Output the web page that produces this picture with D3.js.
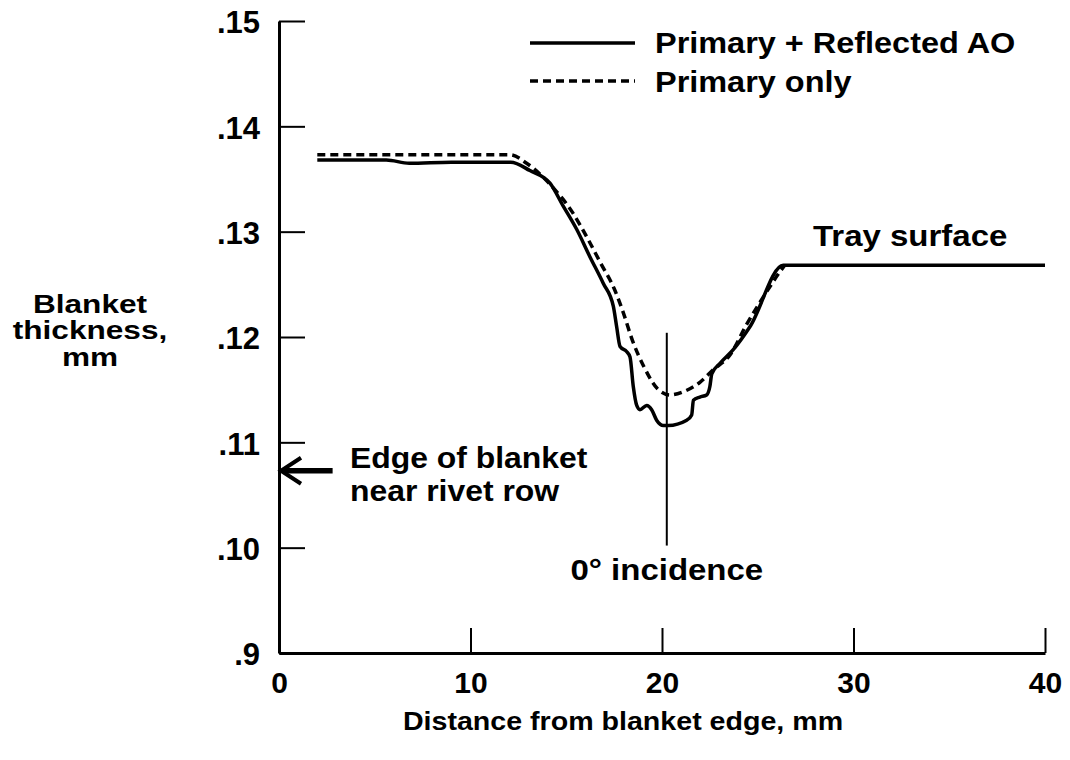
<!DOCTYPE html>
<html>
<head>
<meta charset="utf-8">
<script src="https://cdn.jsdelivr.net/npm/d3@7"></script>
<style>
  body { margin: 0; background: #fff; }
  svg { font-family: "Liberation Sans", Arial, Helvetica, sans-serif; font-weight: bold; }
</style>
</head>
<body>
<svg id="chart"></svg>
<script>
// data
var xTicks = [0, 10, 20, 30, 40];
var yTicks = [0.09, 0.10, 0.11, 0.12, 0.13, 0.14, 0.15];
var yTickLabels = [".9", ".10", ".11", ".12", ".13", ".14", ".15"];

// Primary + Reflected AO (solid)
var reflDist = [2, 5.6, 6.8, 9, 12.1, 13.1, 14.15, 14.85, 15.55, 16.24, 16.93, 17.46, 17.63, 17.81, 18.16, 18.33, 18.5, 18.68, 18.85, 19.2, 19.46, 19.72, 20.07, 20.33, 21.29, 21.55, 21.64, 21.98, 22.33, 22.5, 22.6, 23.03, 23.72, 24.6, 26.33, 40];
var reflThick = [0.1368, 0.1368, 0.1365, 0.1366, 0.1366, 0.1358, 0.1346, 0.1324, 0.1302, 0.1276, 0.1251, 0.1229, 0.1210, 0.1191, 0.1186, 0.1181, 0.1153, 0.1135, 0.1131, 0.1135, 0.1131, 0.1121, 0.1116, 0.1116, 0.1121, 0.1126, 0.1140, 0.1143, 0.1145, 0.1153, 0.1165, 0.1175, 0.1188, 0.1210, 0.1268, 0.1268];

// Primary only (dashed)
var primDist = [2, 12.06, 12.93, 14.25, 15.3, 16.1, 16.8, 17.5, 18.0, 18.45, 19.05, 19.81, 20.42, 21.11, 21.98, 22.68, 23.55, 24.42, 25.12, 26.16, 26.4];
var primThick = [0.1373, 0.1373, 0.1365, 0.1343, 0.1319, 0.1294, 0.1270, 0.1246, 0.1222, 0.1197, 0.1172, 0.1150, 0.1145, 0.1148, 0.1157, 0.1169, 0.1183, 0.1212, 0.1233, 0.1262, 0.1268];

var incidenceDist = 20.25;
var incidenceSpan = [0.1204, 0.1002];
var edgeThick = 0.1073;

var width = 1070, height = 760;

var svg = d3.select("#chart")
    .attr("width", width)
    .attr("height", height);

svg.append("rect").attr("width", width).attr("height", height).attr("fill", "#fff");

var x = d3.scaleLinear().domain([0, 40]).range([279, 1045]);
var y = d3.scaleLinear().domain([0.09, 0.15]).range([653, 21]);

// axes
var xAxis = d3.axisBottom(x)
    .tickValues(xTicks)
    .tickFormat(d3.format("d"))
    .tickSize(-25)
    .tickSizeOuter(0)
    .tickPadding(19);

var yAxis = d3.axisLeft(y)
    .tickValues(yTicks)
    .tickFormat(function(d, i) { return yTickLabels[i]; })
    .tickSize(-26)
    .tickSizeOuter(0)
    .tickPadding(19);

var gx = svg.append("g")
    .attr("transform", "translate(0,653)")
    .call(xAxis);

var gy = svg.append("g")
    .attr("transform", "translate(279,0)")
    .call(yAxis);

[gx, gy].forEach(function(g) {
    g.select(".domain").attr("stroke", "#000").attr("stroke-width", 3);
    g.selectAll(".tick line").attr("stroke", "#000").attr("stroke-width", 2);
    g.selectAll(".tick text")
        .attr("fill", "#000")
        .style("font-family", "Liberation Sans, Arial, sans-serif")
        .style("font-weight", "bold");
});
gx.selectAll(".tick text").style("font-size", "30px");
gy.selectAll(".tick text").style("font-size", "31px").attr("dy", "0.38em");

// text helper, slightly widened like the original lettering
function label(px, py, txt, anchor, size, sx) {
    return svg.append("text")
        .attr("transform", "translate(" + px + "," + py + ") scale(" + (sx || 1.1) + ",1)")
        .attr("text-anchor", anchor || "start")
        .style("font-size", (size || 29) + "px")
        .attr("fill", "#000")
        .text(txt);
}

// curves
var line = d3.line()
    .x(function(d) { return x(d[0]); })
    .y(function(d) { return y(d[1]); })
    .curve(d3.curveMonotoneX);

var reflData = reflDist.map(function(d, i) { return [d, reflThick[i]]; });
var primData = primDist.map(function(d, i) { return [d, primThick[i]]; });

svg.append("path")
    .attr("d", line(primData))
    .attr("fill", "none")
    .attr("stroke", "#000")
    .attr("stroke-width", 3.5)
    .attr("stroke-dasharray", "8,5");

svg.append("path")
    .attr("d", line(reflData))
    .attr("fill", "none")
    .attr("stroke", "#000")
    .attr("stroke-width", 3.5)
    .attr("stroke-linejoin", "round");

// 0 deg incidence marker
svg.append("line")
    .attr("x1", x(incidenceDist)).attr("x2", x(incidenceDist))
    .attr("y1", y(incidenceSpan[0])).attr("y2", y(incidenceSpan[1]))
    .attr("stroke", "#000")
    .attr("stroke-width", 2);
label(x(incidenceDist), 580, "0\u00B0 incidence", "middle", 30);

// edge of blanket arrow
var ay = y(edgeThick);
svg.append("line")
    .attr("x1", x(0) + 4).attr("x2", x(2.8))
    .attr("y1", ay).attr("y2", ay)
    .attr("stroke", "#000")
    .attr("stroke-width", 5.5);
svg.append("path")
    .attr("d", "M" + (x(0) + 22) + "," + (ay - 13) + "L" + (x(0) + 2) + "," + ay + "L" + (x(0) + 22) + "," + (ay + 13))
    .attr("fill", "none")
    .attr("stroke", "#000")
    .attr("stroke-width", 4);
label(350, 468, "Edge of blanket");
label(350, 501, "near rivet row");

label(813, 246, "Tray surface", "start", 30);

// legend
svg.append("line")
    .attr("x1", 530).attr("x2", 635).attr("y1", 43).attr("y2", 43)
    .attr("stroke", "#000").attr("stroke-width", 3.5);
svg.append("line")
    .attr("x1", 530).attr("x2", 635).attr("y1", 81).attr("y2", 81)
    .attr("stroke", "#000").attr("stroke-width", 3.5)
    .attr("stroke-dasharray", "8,5");
label(655, 53, "Primary + Reflected AO", "start", 29.5);
label(655, 92, "Primary only", "start", 29.5);

// axis titles
label(623, 730, "Distance from blanket edge, mm", "middle", 26);
label(90, 313, "Blanket", "middle", 25.5, 1.24);
label(90, 339, "thickness,", "middle", 25.5, 1.24);
label(90, 366, "mm", "middle", 25.5, 1.24);
</script>
</body>
</html>
